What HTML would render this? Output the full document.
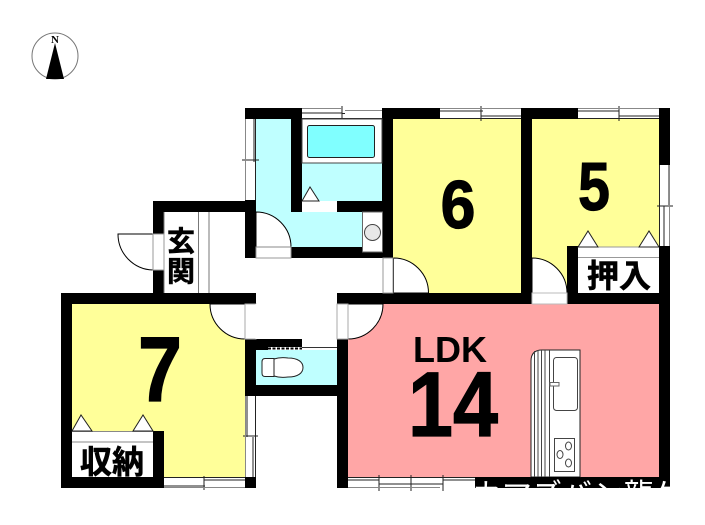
<!DOCTYPE html>
<html><head><meta charset="utf-8">
<style>html,body{margin:0;padding:0;background:#fff}svg{display:block}
text{font-family:"Liberation Sans","Noto Sans CJK JP",sans-serif;font-weight:700;fill:#000}
.h{stroke:#000;stroke-width:1.2}.j{stroke:#000;stroke-width:.6}</style></head>
<body>
<svg width="705" height="525" viewBox="0 0 705 525" xmlns="http://www.w3.org/2000/svg">
<defs><clipPath id="wm"><rect x="440" y="477" width="230" height="11"/></clipPath></defs>
<!-- compass -->
<circle cx="55" cy="56" r="23" fill="#fff" stroke="#777" stroke-width="1"/>
<polygon points="55,43 46,79 64,79" fill="#000"/>
<text x="55" y="43" font-size="11" text-anchor="middle" style="font-family:'Liberation Serif',serif">N</text>
<!-- floors -->
<rect x="61" y="293" width="195" height="195" fill="#ffff99"/>
<rect x="393" y="108" width="130" height="190" fill="#ffff99"/>
<rect x="530" y="108" width="135" height="190" fill="#ffff99"/>
<rect x="340" y="298" width="325" height="185" fill="#ffa6a6"/>
<path d="M256 119H291V212H302V119H382V247H256Z" fill="#bfffff"/>
<rect x="256" y="350" width="85" height="40" fill="#bfffff"/>
<!-- walls -->
<g fill="#000">
<rect x="245" y="108" width="57" height="11"/>
<rect x="291" y="108" width="11" height="104"/>
<rect x="382" y="108" width="58" height="11"/>
<rect x="382" y="108" width="11" height="150"/>
<rect x="337" y="201" width="45" height="11"/>
<rect x="245" y="200" width="11" height="58"/>
<rect x="291" y="247" width="102" height="11"/>
<rect x="153" y="201" width="103" height="11"/>
<rect x="153" y="201" width="11" height="33"/>
<rect x="153" y="270" width="11" height="24"/>
<rect x="61" y="293" width="195" height="11"/>
<rect x="61" y="293" width="11" height="195"/>
<rect x="61" y="477" width="103" height="11"/>
<rect x="153" y="431" width="11" height="57"/>
<rect x="245" y="339" width="11" height="57"/>
<rect x="245" y="339" width="57" height="11"/>
<rect x="245" y="385" width="103" height="11"/>
<rect x="245" y="477" width="11" height="11"/>
<rect x="337" y="339" width="11" height="149"/>
<rect x="337" y="293" width="196" height="11"/>
<rect x="521" y="108" width="11" height="196"/>
<rect x="521" y="108" width="57" height="11"/>
<rect x="659" y="108" width="11" height="57"/>
<rect x="659" y="246" width="11" height="242"/>
<rect x="567" y="246" width="11" height="58"/>
<rect x="567" y="293" width="103" height="11"/>
<rect x="475" y="477" width="195" height="11"/>
</g>
<!-- windows -->
<g fill="#fff" stroke="none">
<rect x="302" y="108" width="80" height="11"/><rect x="440" y="108" width="81" height="11"/><rect x="578" y="108" width="81" height="11"/>
<rect x="245" y="119" width="11" height="81"/><rect x="659" y="165" width="11" height="81"/><rect x="245" y="396" width="11" height="81"/>
<rect x="164" y="477" width="81" height="11"/><rect x="348" y="477" width="127" height="11"/>
</g>
<g stroke="#222" stroke-width="1" fill="none">
<path d="M302 118.500H382M342 113H302M342 113.500H345M342 106V120"/>
<path d="M440 118.500H521M440 111H483M481 106V121M481 116H521"/>
<path d="M578 118.500H659M578 111H619M619 106V121M619 116H659"/>
<path d="M255.500 119V200M254 119V162M242 160H259"/>
<path d="M659.500 165V246M669 165V205M657 206H673M664 206V246"/>
<path d="M255.500 396V477M247 396V437M243 436H258M253 437V477"/>
<path d="M164 477.500H245M164 486H205M204 476V490M204 480H245"/>
<path d="M348 480H379M379 475V491M411 475V491M443 475V491M348 477.500H475M379 484H443M443 480H475"/>
</g>
<g stroke="#888" stroke-width="1" fill="none">
<path d="M302 108.500H342M345 110.500H382M440 108.500H521M578 108.500H659M245.500 119V200M669.500 165V246M245.500 396V477M164 487.500H245M348 487.500H440"/>
</g>
<!-- bath -->
<rect x="302" y="119" width="80" height="44" fill="#fff" stroke="#444" stroke-width="1"/>
<rect x="307.500" y="125.500" width="67" height="32" rx="2" fill="#80ffff" stroke="#222" stroke-width="1"/>
<!-- bath door -->
<rect x="302" y="201" width="35" height="11" fill="#fff"/>
<polygon points="302,201 310,187 319,201" fill="#fff" stroke="#222" stroke-width="1"/>
<!-- washbasin -->
<rect x="362.500" y="212" width="20" height="40" fill="#fff" stroke="#666" stroke-width="1"/>
<circle cx="372.500" cy="232.500" r="8" fill="#e8e8e8" stroke="#444" stroke-width="1"/>
<!-- wash door -->
<path d="M256 212A35 35 0 0 1 291 247H256Z" fill="#fff" stroke="#000" stroke-width="1"/>
<rect x="256" y="247" width="35" height="11" fill="#fff" stroke="#999" stroke-width="1"/>
<path d="M256 247H291" stroke="#888"/>
<!-- hall -->
<path d="M393.500 258A35 35 0 0 1 428.500 293H393.500Z" fill="#fff" stroke="#000" stroke-width="1"/>
<rect x="383" y="258" width="10" height="35" fill="#fff" stroke="#999" stroke-width="1"/>
<!-- 5 door -->
<path d="M532 258A35 35 0 0 1 567 293H532Z" fill="#fff" stroke="#000" stroke-width="1"/>
<rect x="532" y="293" width="35" height="11" fill="#fff" stroke="#bbb" stroke-width="1"/>
<!-- genkan -->
<path d="M198.500 212V293M209 212V293M164 212V293" stroke="#777" stroke-width="1"/>
<path d="M153 234H118A36 36 0 0 0 153 270" fill="#fff" stroke="#000" stroke-width="1"/>
<rect x="153" y="234" width="11" height="36" fill="#fff" stroke="#999" stroke-width="1"/>
<!-- 7 door -->
<path d="M210 304A35 35 0 0 0 245 339V304Z" fill="#fff" stroke="#000" stroke-width="1"/>
<rect x="245" y="304" width="11" height="35" fill="#fff" stroke="#aaa" stroke-width="1"/>
<path d="M256 304V339" stroke="#fff" stroke-width="1"/>
<!-- LDK door -->
<path d="M348 304H383A35 35 0 0 1 348 339Z" fill="#fff" stroke="#000" stroke-width="1"/>
<rect x="337" y="304" width="11" height="35" fill="#fff" stroke="#aaa" stroke-width="1"/>
<!-- toilet -->
<rect x="268" y="347" width="34" height="3" fill="#fff"/>
<path d="M268 348.500H302" stroke="#000" stroke-width="2" stroke-dasharray="3 1.500"/>
<path d="M302 347.500H337" stroke="#333" stroke-width="1"/>
<rect x="302" y="348" width="35" height="2" fill="#fff"/>
<path d="M265 358.500H274V376.500H265Q262 376.500 262 373V362Q262 358.500 265 358.500ZM274 359Q280 357 288 358C298 358 303 362 303 367.500C303 373 298 377 288 377Q280 378 274 376" fill="#fff" stroke="#222" stroke-width="1"/>
<!-- 7 closet -->
<rect x="72" y="431" width="81" height="46" fill="#fff"/>
<path d="M72 431.500H153M72 442H153" stroke="#888" stroke-width="1"/>
<polygon points="72,431 81,415 92,431" fill="#fff" stroke="#222" stroke-width="1"/>
<polygon points="133,431 143,415 153,431" fill="#fff" stroke="#222" stroke-width="1"/>
<!-- 5 closet -->
<rect x="578" y="247" width="81" height="46" fill="#fff"/>
<path d="M578 247H659M578 257.500H659" stroke="#999" stroke-width="1"/>
<polygon points="578,247 588,231 598,247" fill="#fff" stroke="#222" stroke-width="1"/>
<polygon points="639,247 649,231 659,247" fill="#fff" stroke="#222" stroke-width="1"/>
<!-- kitchen -->
<path d="M531 477V361Q531 350 542 350H580V477Z" fill="#fff" stroke="#222" stroke-width="1"/>
<path d="M534.500 477V351M538 477V350M541.500 477V350M545 477V350M549.500 477V350" stroke="#444" stroke-width="1" fill="none"/>
<rect x="553.500" y="357.500" width="24" height="53" rx="3" fill="#fff" stroke="#444" stroke-width="1"/>
<rect x="550" y="382.500" width="9" height="3.500" fill="#fff" stroke="#666" stroke-width="1"/>
<rect x="554.500" y="438.500" width="20" height="33" fill="#fff" stroke="#444" stroke-width="1"/>
<ellipse cx="568.500" cy="446" rx="3" ry="4" fill="#fff" stroke="#444"/>
<ellipse cx="560" cy="454.500" rx="3" ry="4" fill="#fff" stroke="#444"/>
<ellipse cx="568.500" cy="463" rx="3" ry="4" fill="#fff" stroke="#444"/>
<rect x="531" y="477" width="49" height="1" fill="#000"/>
<!-- labels -->
<text class="h" transform="translate(458 228) scale(.92 1)" font-size="68" text-anchor="middle">6</text>
<text class="h" transform="translate(594 210) scale(.84 1)" font-size="68" text-anchor="middle">5</text>
<text class="h" transform="translate(160 401) scale(.86 1)" font-size="92" text-anchor="middle">7</text>
<text x="450" y="362" font-size="36" text-anchor="middle">LDK</text>
<text class="h" transform="translate(453 436) scale(.88 1)" font-size="92" text-anchor="middle">14</text>
<text class="j" x="181" y="251" font-size="28" text-anchor="middle">玄</text>
<text class="j" x="181" y="281" font-size="28" text-anchor="middle">関</text>
<text class="j" x="112" y="473" font-size="32" text-anchor="middle">収納</text>
<text class="j" x="619" y="287" font-size="32" text-anchor="middle">押入</text>
<!-- watermark tops -->
<g clip-path="url(#wm)">
<text x="442" y="505" font-size="30" style="fill:#fff;font-weight:400">ホカマズバン龍ケ</text>
</g>
</svg>
</body></html>
